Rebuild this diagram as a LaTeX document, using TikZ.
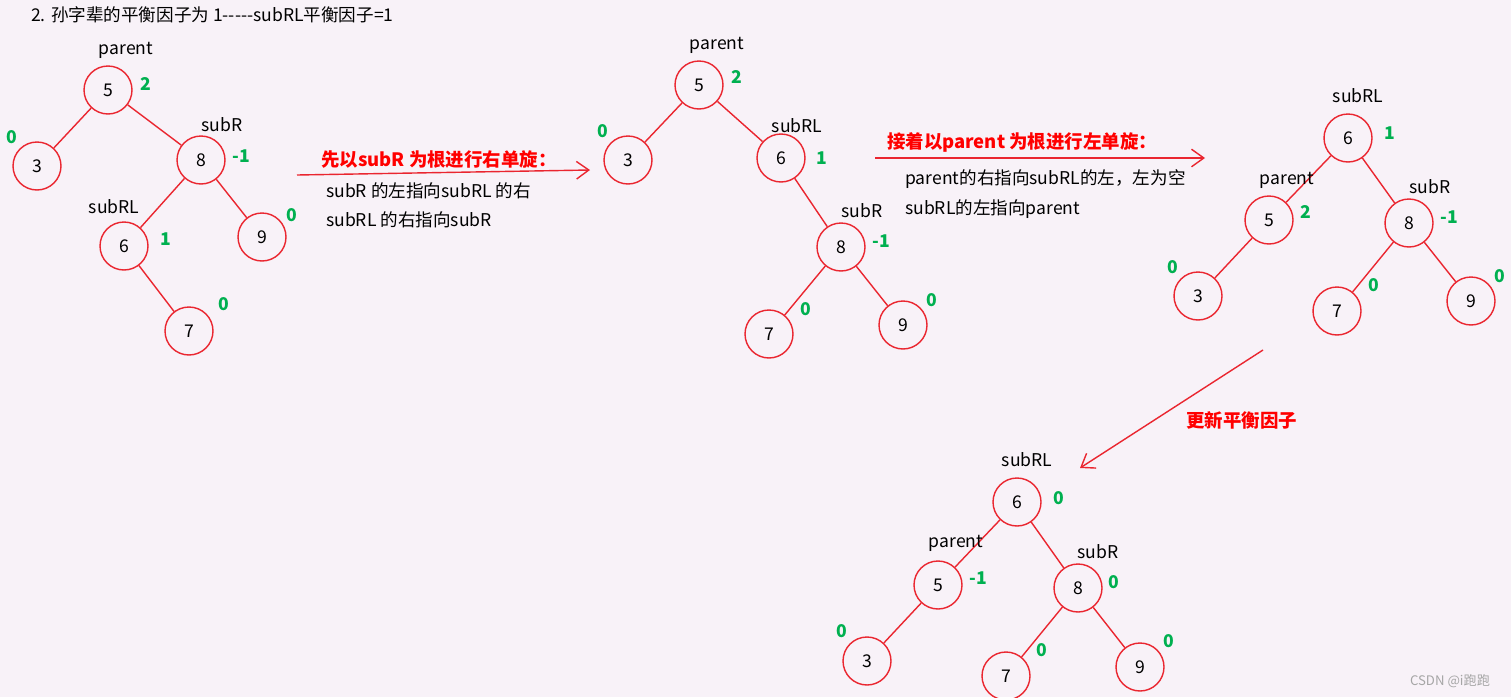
\documentclass[tikz,border=0pt]{standalone}
\usepackage{fontspec}
\setmainfont{Noto Sans CJK SC}
\usepackage{tikz}
\usetikzlibrary{arrows.meta, positioning}

\definecolor{bgpink}{RGB}{248,242,248}
\definecolor{linered}{RGB}{234,38,48}
\definecolor{bfgreen}{RGB}{0,176,80}

\begin{document}
\begin{tikzpicture}[x=0.02cm, y=-0.02cm,
    every node/.style={font=\fontsize{10}{12}\selectfont},
    treenode/.style={circle, draw=linered, line width=0.8pt, minimum size=0.96cm, inner sep=0pt},
    treeedge/.style={draw=linered, line width=0.8pt},
    bf/.style={text=bfgreen, font=\fontsize{10}{12}\selectfont\bfseries},
    role/.style={text=black},
    redtext/.style={text=red, font=\fontsize{10.5}{12}\selectfont\bfseries, anchor=west},
    note/.style={anchor=west},
    steparrow/.style={draw=linered, line width=0.8pt, -{Straight Barb[length=7pt,width=10pt]}}]

    % Background and page size
    \fill[bgpink] (0,0) rectangle (1511,697);
    \useasboundingbox (0,0) rectangle (1511,697);

    % Title
    \node[anchor=west] (title) at (25,15) {2. 孙字辈的平衡因子为 1{-}{-}{-}{-}{-}subRL平衡因子=1};

    % Draw the four trees
    \foreach \n/\v/\x/\y in {a5/5/108/90, a3/3/37/166, a8/8/201/160, a6/6/124/246, a9/9/262/237, a7/7/189/331,
                             b5/5/699/85, b3/3/628/160, b6/6/781/158, b8/8/841/247, b7/7/769/334, b9/9/903/325,
                             c6/6/1348/138, c5/5/1269/220, c8/8/1409/223, c3/3/1198/296, c7/7/1337/311, c9/9/1471/301,
                             d6/6/1017/502, d5/5/938/585, d8/8/1078/588, d3/3/867/661, d7/7/1006/676, d9/9/1140/667} {
        \node[treenode] (\n) at (\x,\y) {\v};
    }

    % Edges
    \foreach \p/\c in {a5/a3, a5/a8, a8/a6, a8/a9, a6/a7,
                       b5/b3, b5/b6, b6/b8, b8/b7, b8/b9,
                       c6/c5, c6/c8, c5/c3, c8/c7, c8/c9,
                       d6/d5, d6/d8, d5/d3, d8/d7, d8/d9} {
        \draw[treeedge] (\p) -- (\c);
    }

    % Pointer names
    \node[role] (aparent) at (126,50) {parent};
    \node[role] (asubr) at (222,125) {subR};
    \node[role] (asubrl) at (114,207) {subRL};
    \node[role] (bparent) at (717,45) {parent};
    \node[role] (bsubrl) at (797,126) {subRL};
    \node[role] (bsubr) at (862,211) {subR};
    \node[role] (csubrl) at (1358,96) {subRL};
    \node[role] (cparent) at (1287,180) {parent};
    \node[role] (csubr) at (1430,187) {subR};
    \node[role] (dsubrl) at (1027,460) {subRL};
    \node[role] (dparent) at (956,543) {parent};
    \node[role] (dsubr) at (1098,552) {subR};

    % Balance factors
    \foreach \t/\x/\y [count=\i] in {2/146/84, 0/12/137, -1/241/156, 1/166/239, 0/292/215, 0/224/304,
                                     2/737/77, 0/603/131, 1/822/158, -1/881/241, 0/806/309, 0/932/300,
                                     1/1390/133, 2/1306/212, -1/1449/217, 0/1173/267, 0/1374/285, 0/1500/276,
                                     0/1059/498, -1/978/578, 0/1114/582, 0/842/631, 0/1042/650, 0/1169/641} {
        \node[bf] (bf\i) at (\x,\y) {\t};
    }

    % Step 1: right rotation about subR
    \coordinate (r1s) at (297,175);
    \coordinate (r1e) at (590,170);
    \draw[steparrow] (r1s) -- (r1e);
    \node[redtext] (r1title) at (315,160) {先以subR 为根进行右单旋：};
    \node[note] (r1a) at (320,191) {subR 的左指向subRL 的右};
    \node[note] (r1b) at (320,220) {subRL 的右指向subR};

    % Step 2: left rotation about parent
    \coordinate (r2s) at (875,158);
    \coordinate (r2e) at (1205,158);
    \draw[steparrow] (r2s) -- (r2e);
    \node[redtext] (r2title) at (881,142) {接着以parent 为根进行左单旋：};
    \node[note] (r2a) at (899,179) {parent的右指向subRL的左，左为空};
    \node[note] (r2b) at (899,209) {subRL的左指向parent};

    % Step 3: update balance factors
    \coordinate (r3s) at (1263,350);
    \coordinate (r3e) at (1080,468);
    \draw[steparrow] (r3s) -- (r3e);
    \node[redtext] (r3title) at (1180,420) {更新平衡因子};

    % Watermark
    \node[text=gray!70, font=\fontsize{7.5}{9}\selectfont] (mark) at (1450,681) {CSDN @i跑跑};
\end{tikzpicture}
\end{document}
